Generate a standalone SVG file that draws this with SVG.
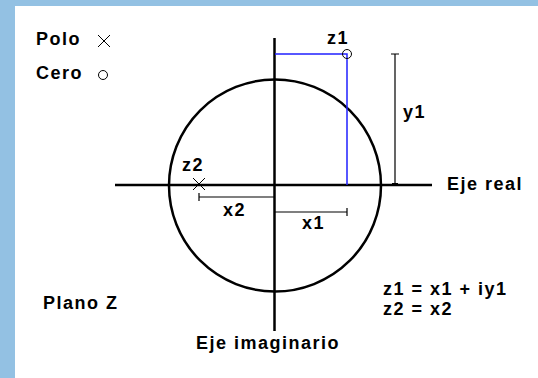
<svg xmlns="http://www.w3.org/2000/svg" width="538" height="378" viewBox="0 0 538 378">
<style>
text{font-family:"Liberation Sans",Arial,sans-serif;font-size:18px;font-weight:bold;letter-spacing:1.5px;fill:#000}
.ax{stroke:#000;stroke-width:2.5;fill:none}
.dim{stroke:#000;stroke-width:1.2;fill:none}
.blue{stroke:#2020ff;stroke-width:1.5;fill:none}
.mk{stroke:#000;stroke-width:1;fill:none}
</style>
<rect x="0" y="0" width="538" height="378" fill="#fff"/>
<rect x="0" y="0" width="538" height="6" fill="#93c1e3"/>
<rect x="0" y="0" width="15" height="378" fill="#93c1e3"/>
<g id="legend">
<text x="36" y="45">Polo</text>
<path class="mk" d="M98 35 L110 47 M110 35 L98 47"/>
<text x="36" y="79">Cero</text>
<circle class="mk" cx="103" cy="75" r="4.5"/>
</g>
<g id="connectors">
<circle class="ax" cx="275" cy="185.5" r="106"/>
<line class="ax" x1="115" y1="185" x2="432" y2="185"/>
<line class="ax" x1="274.5" y1="38" x2="274.5" y2="331"/>
<path class="blue" d="M275 54 H347 V185"/>
<path class="dim" d="M395 54 V185 M391 54 H399"/>
<rect x="392" y="183" width="6" height="2" fill="#000"/>
<path class="dim" d="M199 197 H274 M199 193 V201"/>
<path class="dim" d="M275 212 H347 M347 208 V216"/>
</g>
<g id="z1">
<circle class="mk" cx="347" cy="54" r="4.5" fill="#fff"/>
<text x="327" y="44">z1</text>
</g>
<g id="z2">
<path class="mk" d="M193 178 L205 190 M205 178 L193 190"/>
<text x="182" y="171">z2</text>
</g>
<g id="labels">
<text x="403" y="118">y1</text>
<text x="223" y="216">x2</text>
<text x="302" y="229">x1</text>
<text x="447" y="190">Eje real</text>
<text x="196" y="349">Eje imaginario</text>
<text x="43" y="309">Plano Z</text>
<text x="383" y="295">z1 = x1 + iy1</text>
<text x="383" y="315">z2 = x2</text>
</g>
</svg>
